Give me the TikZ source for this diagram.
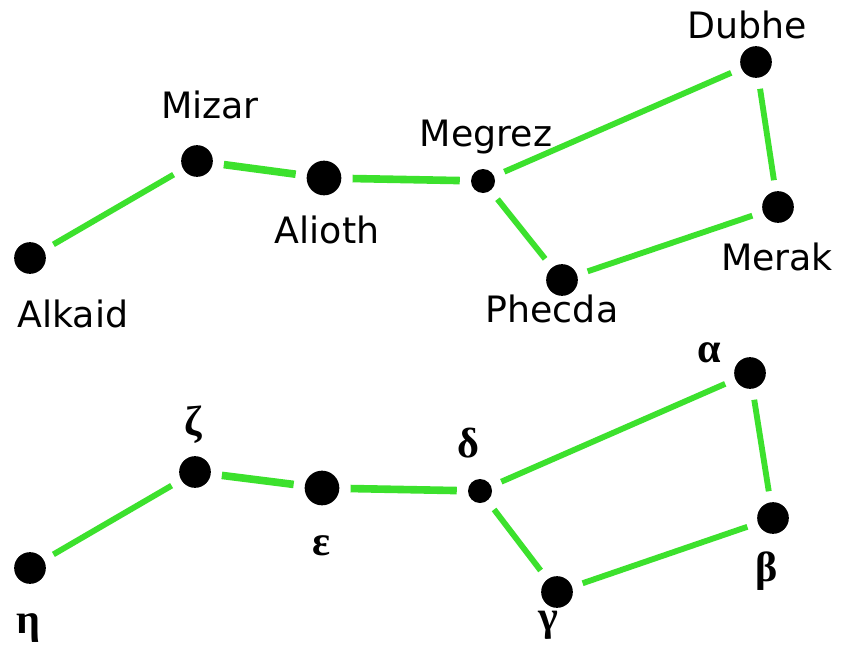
\documentclass[tikz,border=0pt]{standalone}
\usepackage{fontspec}
\setmainfont{DejaVu Sans}
\newfontfamily\greekfont{Liberation Serif}
\definecolor{starline}{RGB}{60,225,45}
\def\starsize{0.95cm}
\def\gap{0.33cm}

\begin{document}
\begin{tikzpicture}[x=0.03cm,y=-0.03cm]
            \tikzstyle{star dot}=[circle,fill=black,minimum size=\starsize,inner sep=0pt]
            \tikzstyle{bright dot}=[star dot,minimum size=1.04cm]
            \tikzstyle{faint dot}=[star dot,minimum size=0.72cm]
            \tikzstyle{starname}=[anchor=base,inner sep=0pt,font=\fontsize{31}{36}\selectfont]
            \tikzstyle{greekname}=[anchor=base,inner sep=0pt,font=\greekfont\bfseries\fontsize{36}{40}\selectfont]
            \tikzstyle{link}=[draw=starline,line width=5pt,shorten >=\gap,shorten <=\gap]
            \tikzstyle{thick link}=[link,line width=6.5pt]

            \useasboundingbox[fill=white] (0,0) rectangle (843,645);

            % Draw the stars with names
            \foreach \name / \x / \y in {Alkaid/30/258,Mizar/197/161,Dubhe/756/62,Merak/778/207,Phecda/562/280}
                \node[star dot] (\name) at (\x,\y) {};
            \node[bright dot] (Alioth) at (324,178) {};
            \node[faint dot] (Megrez) at (483,181) {};

            \foreach \name / \x / \y in {Alkaid/73/327,Mizar/210/118,Alioth/327/243,Megrez/486/146,Dubhe/747/38,Merak/777/270,Phecda/552/322}
                \node[starname] (\name-label) at (\x,\y) {\name};

            % Draw the stars with greek letters
            \foreach \name / \x / \y in {eta/30/568,zeta/195/472,alpha/750/373,beta/773/518,gamma/557/592}
                \node[star dot] (\name) at (\x,\y) {};
            \node[bright dot] (epsilon) at (322,488) {};
            \node[faint dot] (delta) at (480,491) {};

            \foreach \name / \x / \y / \letter in {eta/28/633/η,zeta/193/435/ζ,epsilon/322/555/ε,delta/468/457/δ,alpha/709/362/α,beta/767/581/β,gamma/548/630/γ}
                \node[greekname] (\name-label) at (\x,\y) {\letter};

            % Connect the stars
            \foreach \source / \dest in {Alkaid/Mizar,Megrez/Dubhe,Dubhe/Merak,Merak/Phecda,Phecda/Megrez,eta/zeta,delta/alpha,alpha/beta,beta/gamma,gamma/delta}
                \path (\source) edge[link] (\dest);
            \foreach \source / \dest in {Mizar/Alioth,Alioth/Megrez,zeta/epsilon,epsilon/delta}
                \path (\source) edge[thick link] (\dest);
\end{tikzpicture}
\end{document}
